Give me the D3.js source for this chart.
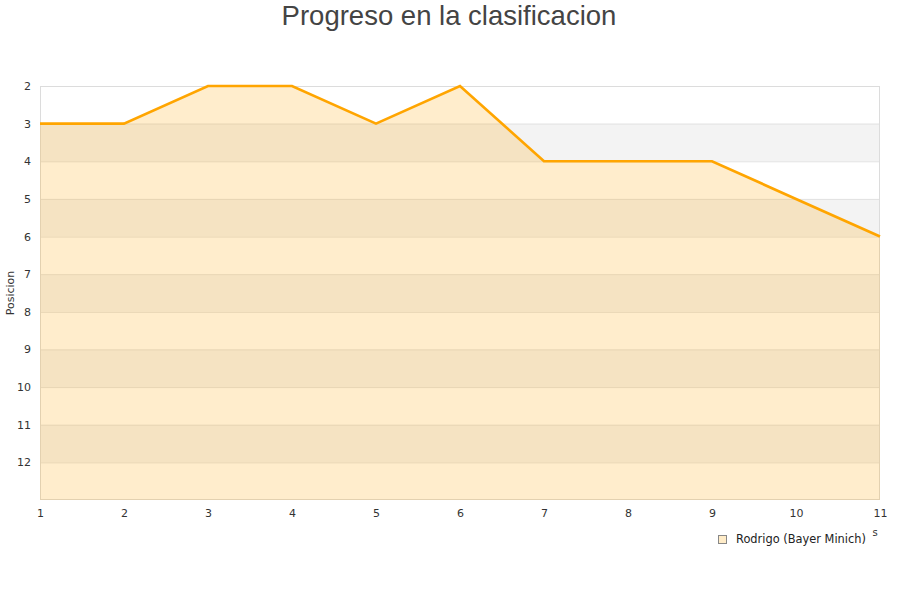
<!DOCTYPE html>
<html><head><meta charset="utf-8">
<script src="https://cdn.jsdelivr.net/npm/d3@7"></script>
<style>body{margin:0;background:#fff}</style>
</head><body>
<svg id="c" width="900" height="600"></svg>
<script>
const jornadas = [1,2,3,4,5,6,7,8,9,10,11];
const posiciones = [3,3,2,2,3,2,4,4,4,5,6];
const yTicks = [2,3,4,5,6,7,8,9,10,11,12];
const seriesName = "Rodrigo (Bayer Minich)";
const title = "Progreso en la clasificacion";
const yTitle = "Posicion";

const svg = d3.select("#c");
const L = 40, R = 880, T = 86, B = 500;
const x = d3.scaleLinear().domain([1,11]).range([L,R]);
const y = d3.scaleLinear().domain([2,13]).range([T,B]);

// bands
const bands = d3.range(2,13);
svg.selectAll("rect.band").data(bands).enter().append("rect")
  .attr("x",L).attr("width",R-L)
  .attr("y",d=>y(d)).attr("height",d=>y(d+1)-y(d))
  .attr("fill",d=>d%2===1?"#f3f3f3":"#ffffff");
svg.selectAll("line.grid").data(d3.range(3,13)).enter().append("line")
  .attr("x1",L).attr("x2",R).attr("y1",d=>y(d)+0.5).attr("y2",d=>y(d)+0.5)
  .attr("stroke","#e2e2e2");
// border
svg.append("rect").attr("x",L+0.5).attr("y",T+0.5).attr("width",R-L-1).attr("height",B-T-1)
  .attr("fill","none").attr("stroke","#dcdcdc");

const pts = jornadas.map((j,i)=>[j,posiciones[i]]);
svg.append("path").datum(pts)
  .attr("d", d3.area().x(d=>x(d[0])).y0(B).y1(d=>y(d[1])))
  .attr("fill","#ffa500").attr("fill-opacity",0.2);
svg.append("path").datum(pts)
  .attr("d", d3.line().x(d=>x(d[0])).y(d=>y(d[1])))
  .attr("fill","none").attr("stroke","#ffa500").attr("stroke-width",2.7);

// axes
const yAxis = d3.axisLeft(y).tickValues(yTicks).tickSize(0).tickPadding(9);
const gy = svg.append("g").attr("transform",`translate(${L},0)`).call(yAxis);
const xAxis = d3.axisBottom(x).tickValues(jornadas).tickSize(0).tickPadding(9).tickFormat(d3.format("d"));
const gx = svg.append("g").attr("transform",`translate(0,${B})`).call(xAxis);
[gy,gx].forEach(g=>{
  g.select(".domain").remove();
  g.selectAll("text").attr("font-family","DejaVu Sans, sans-serif").attr("font-size",11).attr("fill","#333");
});

svg.append("text").attr("x",449).attr("y",25).attr("text-anchor","middle")
  .attr("font-family","Liberation Sans, Arial, sans-serif").attr("font-size",27.5).attr("fill","#444")
  .text(title);
svg.append("text").attr("transform","translate(14,293) rotate(-90)").attr("text-anchor","middle")
  .attr("font-family","DejaVu Sans, sans-serif").attr("font-size",11).attr("fill","#333").text(yTitle);
svg.append("text").attr("x",875).attr("y",536).attr("text-anchor","middle")
  .attr("font-family","DejaVu Sans, sans-serif").attr("font-size",10).attr("fill","#333").text("s");

// legend
svg.append("rect").attr("x",718.5).attr("y",535.5).attr("width",8).attr("height",8)
  .attr("fill","#ffecc8").attr("stroke","#888");
svg.append("text").attr("x",736).attr("y",543)
  .attr("font-family","DejaVu Sans, sans-serif").attr("font-size",11.4).attr("fill","#222").text(seriesName);
</script>
</body></html>
